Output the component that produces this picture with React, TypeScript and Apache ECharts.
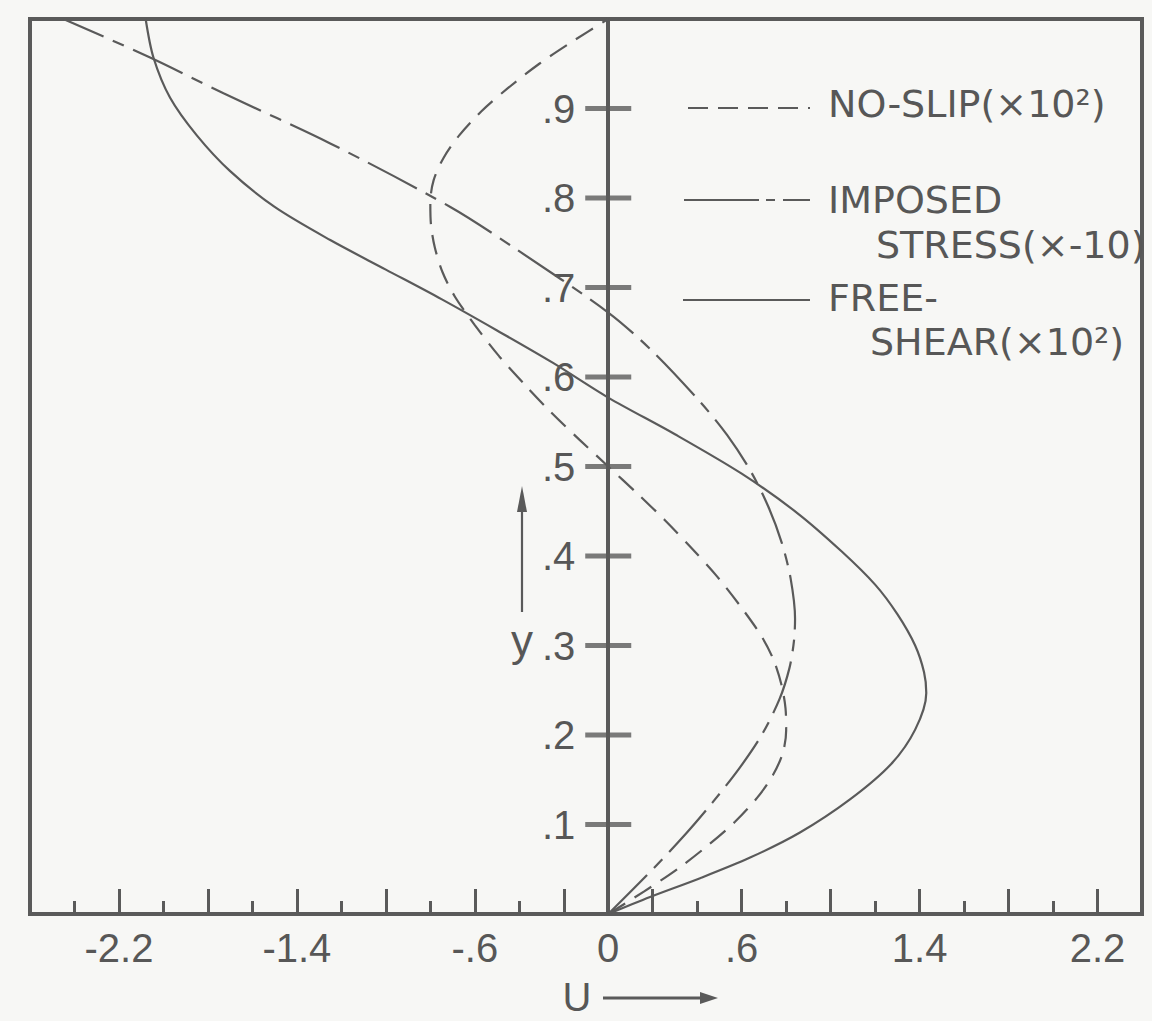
import React, { useEffect, useRef } from "react";
import * as echarts from "echarts";

// ---- data (u on the horizontal axis, y on the vertical axis) ----
const noSlipY = [0, 0.025, 0.05, 0.077, 0.103, 0.13, 0.155, 0.18, 0.205, 0.23, 0.255, 0.283, 0.31, 0.342, 0.377, 0.41, 0.44, 0.47, 0.5, 0.53, 0.56, 0.59, 0.623, 0.658, 0.69, 0.717, 0.745, 0.77, 0.795, 0.82, 0.845, 0.87, 0.897, 0.923, 0.95, 0.975, 1.0];
const noSlipU = [0, 0.16, 0.31, 0.45, 0.57, 0.67, 0.74, 0.785, 0.8, 0.797, 0.78, 0.745, 0.69, 0.6, 0.49, 0.37, 0.255, 0.13, 0, -0.13, -0.255, -0.37, -0.49, -0.6, -0.69, -0.745, -0.78, -0.797, -0.8, -0.785, -0.74, -0.67, -0.57, -0.45, -0.31, -0.16, 0];

const imposedY = [0, 0.05, 0.09, 0.125, 0.163, 0.2, 0.24, 0.275, 0.305, 0.33, 0.375, 0.415, 0.455, 0.495, 0.535, 0.572, 0.628, 0.672, 0.745, 0.79, 0.861, 0.917, 0.957, 1.0];
const imposedU = [0, 0.2, 0.35, 0.47, 0.59, 0.69, 0.77, 0.815, 0.835, 0.84, 0.82, 0.78, 0.72, 0.64, 0.535, 0.414, 0.202, 0, -0.427, -0.71, -1.25, -1.73, -2.06, -2.45];

const freeShearY = [0, 0.019, 0.04, 0.063, 0.091, 0.128, 0.167, 0.206, 0.247, 0.27, 0.3, 0.335, 0.368, 0.405, 0.448, 0.492, 0.536, 0.577, 0.616, 0.652, 0.687, 0.72, 0.753, 0.79, 0.83, 0.87, 0.912, 0.957, 1.0];
const freeShearU = [0, 0.188, 0.413, 0.638, 0.862, 1.087, 1.27, 1.38, 1.43, 1.42, 1.38, 1.3, 1.2, 1.05, 0.85, 0.6, 0.3, 0, -0.25, -0.5, -0.75, -1.0, -1.25, -1.5, -1.7, -1.85, -1.97, -2.045, -2.08];

// ---- axis ticks / labels ----
const xTallTicks = [-2.2, -1.8, -1.4, -1.0, -0.6, -0.2, 0.2, 0.6, 1.0, 1.4, 1.8, 2.2];
const xShortTicks = [-2.4, -2.0, -1.6, -1.2, -0.8, -0.4, 0.4, 0.8, 1.2, 1.6, 2.0];
const xLabelValues = [-2.2, -1.4, -0.6, 0, 0.6, 1.4, 2.2];
const yTickValues = [0.1, 0.2, 0.3, 0.4, 0.5, 0.6, 0.7, 0.8, 0.9];

const legendNoSlip = "NO-SLIP(×10²)";
const legendImposed1 = "IMPOSED";
const legendImposed2 = "STRESS(×-10)";
const legendFree1 = "FREE-";
const legendFree2 = "SHEAR(×10²)";
const xName = "U";
const yName = "y";

const INK = "#5a5a5a";
const TEXT = "#575757";
const NUM_FONT = "Liberation Sans";
const LEG_FONT = "DejaVu Sans";

const GRID_LEFT = 30;
const GRID_RIGHT = 10;
const PLOT_W = 1152 - GRID_LEFT - GRID_RIGHT;
const X_MIN = -2.6;
const X_MAX = 2.4;

function pairs(u: number[], y: number[]) {
  return y.map((v, i) => [u[i], v]);
}

function fmtX(v: number) {
  if (Math.abs(v) < 1e-9) return "0";
  let s = Math.abs(v).toFixed(1);
  if (Math.abs(v) < 1) s = s.slice(1);
  return (v < 0 ? "-" : "") + s;
}

export default function App() {
  const ref = useRef<HTMLDivElement>(null);
  useEffect(() => {
    if (!ref.current) return;
    const chart = echarts.init(ref.current, null, { renderer: "svg" });
    const lineW = 2.2;
    // shift the y axis from the grid's left edge to u = 0
    const yAxisOffset = -((0 - X_MIN) / (X_MAX - X_MIN)) * PLOT_W;
    const legText = (x: number, y: number, text: string) => ({
      type: "text",
      x,
      y,
      style: { text, fontSize: 38, fontFamily: LEG_FONT, fill: TEXT, align: "left", verticalAlign: "middle" },
    });
    chart.setOption({
      animation: false,
      backgroundColor: "#f7f7f5",
      grid: {
        left: GRID_LEFT,
        right: GRID_RIGHT,
        top: 19,
        bottom: 107,
        show: true,
        borderColor: INK,
        borderWidth: 4,
        backgroundColor: "transparent",
        containLabel: false,
        outerBoundsMode: "none",
      },
      xAxis: [
        {
          type: "value",
          min: X_MIN,
          max: X_MAX,
          position: "bottom",
          axisLine: { show: true, onZero: false, lineStyle: { color: INK, width: 4 } },
          axisTick: { show: true, inside: true, length: 25, customValues: xTallTicks, lineStyle: { color: INK, width: 3 } },
          axisLabel: {
            show: true,
            customValues: xLabelValues,
            formatter: (v: number) => fmtX(v),
            fontSize: 40,
            fontFamily: NUM_FONT,
            color: TEXT,
            margin: 14,
          },
          splitLine: { show: false },
        },
        {
          type: "value",
          min: X_MIN,
          max: X_MAX,
          position: "bottom",
          axisLine: { show: false },
          axisTick: { show: true, inside: true, length: 13, customValues: xShortTicks, lineStyle: { color: INK, width: 3 } },
          axisLabel: { show: false },
          splitLine: { show: false },
        },
      ],
      yAxis: {
        type: "value",
        min: 0,
        max: 1,
        position: "left",
        offset: yAxisOffset,
        axisLine: { show: true, onZero: false, lineStyle: { color: INK, width: 4 } },
        axisTick: { show: false },
        axisLabel: {
          customValues: yTickValues,
          formatter: (v: number) => "." + Math.round(v * 10),
          fontSize: 40,
          fontFamily: NUM_FONT,
          color: TEXT,
          margin: 33,
        },
        splitLine: { show: false },
      },
      series: [
        {
          name: "NO-SLIP",
          type: "line",
          data: pairs(noSlipU, noSlipY),
          smooth: 0.3,
          showSymbol: false,
          clip: true,
          lineStyle: { color: INK, width: lineW, type: [20, 11] },
          z: 3,
        },
        {
          name: "IMPOSED STRESS",
          type: "line",
          data: pairs(imposedU, imposedY),
          smooth: 0.3,
          showSymbol: false,
          clip: true,
          lineStyle: { color: INK, width: lineW, type: [55, 10, 12, 10] },
          z: 3,
        },
        {
          name: "FREE-SHEAR",
          type: "line",
          data: pairs(freeShearU, freeShearY),
          smooth: 0.3,
          showSymbol: false,
          clip: true,
          lineStyle: { color: INK, width: lineW },
          z: 3,
        },
        {
          name: "yticks",
          type: "scatter",
          data: yTickValues.map((v) => [0, v]),
          symbol: "rect",
          symbolSize: [46, 5],
          itemStyle: { color: INK },
          silent: true,
          z: 4,
        },
      ],
      graphic: [
        { type: "line", shape: { x1: 688, y1: 108, x2: 810, y2: 108 }, style: { stroke: INK, lineWidth: lineW, lineDash: [20, 10] } },
        legText(828, 104, legendNoSlip),
        { type: "line", shape: { x1: 684, y1: 200, x2: 810, y2: 200 }, style: { stroke: INK, lineWidth: lineW, lineDash: [75, 7, 9, 8] } },
        legText(828, 200, legendImposed1),
        legText(876, 245, legendImposed2),
        { type: "line", shape: { x1: 683, y1: 300, x2: 810, y2: 300 }, style: { stroke: INK, lineWidth: lineW } },
        legText(828, 298, legendFree1),
        legText(870, 342, legendFree2),
        // y arrow + label
        { type: "line", shape: { x1: 522, y1: 612, x2: 522, y2: 505 }, style: { stroke: INK, lineWidth: 2.2 } },
        { type: "polygon", shape: { points: [[522, 486], [517, 512], [527, 512]] }, style: { fill: INK } },
        { type: "text", x: 522, y: 640, style: { text: yName, fontSize: 44, fontFamily: NUM_FONT, fill: TEXT, align: "center", verticalAlign: "middle" } },
        // U label + arrow
        { type: "text", x: 577, y: 997, style: { text: xName, fontSize: 40, fontFamily: NUM_FONT, fill: TEXT, align: "center", verticalAlign: "middle" } },
        { type: "line", shape: { x1: 603, y1: 998, x2: 704, y2: 998 }, style: { stroke: INK, lineWidth: 3 } },
        { type: "polygon", shape: { points: [[718, 998], [700, 992], [700, 1004]] }, style: { fill: INK } },
      ],
    });
    return () => chart.dispose();
  }, []);
  return <div ref={ref} style={{ position: "absolute", left: 0, top: 0, width: 1152, height: 1021 }} />;
}
